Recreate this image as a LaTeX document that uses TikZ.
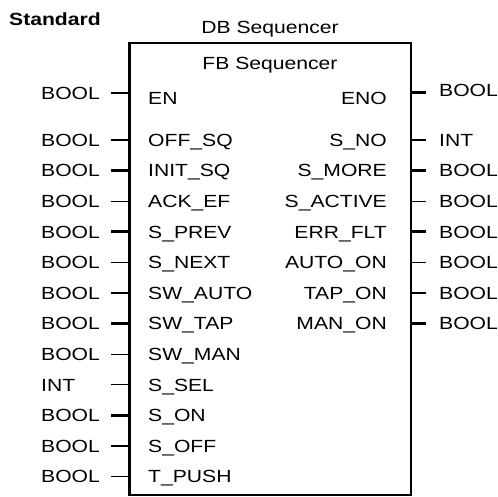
\documentclass[tikz,border=0pt]{standalone}
\usepackage{fontspec}
\setmainfont{Liberation Sans}[FakeStretch=1.2]
\begin{document}
\begin{tikzpicture}[x=1pt,y=-1pt,
  lbl/.style={inner sep=0pt,text height=12.6pt,text depth=0pt,font=\fontsize{17.6}{20}\selectfont},
  thinstub/.style={line width=1.3pt},
  thickstub/.style={line width=3pt},
  boxline/.style={line width=1.4pt}]
\useasboundingbox (0,0) rectangle (498,496);
% titles
\node[lbl,anchor=west,font=\fontsize{17.6}{20}\selectfont\bfseries] (std) at (9,19) {Standard};
\node[lbl] (db) at (270,27) {DB Sequencer};
% box
\coordinate (tl) at (129,43);
\coordinate (br) at (411,495);
\node[lbl] (fb) at (270,63) {FB Sequencer};
\draw[boxline] (tl) rectangle (br);
\draw[line width=3.5pt] (129.5,43) -- (129.5,496);
% EN / ENO
\node[lbl,anchor=west] (lEN) at (41,93) {BOOL};
\node[lbl,anchor=west] (iEN) at (148,98) {EN};
\coordinate (lpEN) at (111,93); \coordinate (leEN) at (128,93);
\draw[thinstub] (lpEN) -- (leEN);
\node[lbl,anchor=east] (iENO) at (387,98) {ENO};
\node[lbl,anchor=west] (rENO) at (439,90) {BOOL};
\coordinate (rpENO) at (411,92); \coordinate (reENO) at (426,92);
\draw[thickstub] (rpENO) -- (reENO);
% left inputs
\foreach \n/\t/\l/\y/\w in {
  a/OFF\_SQ/BOOL/140/thinstub,
  b/INIT\_SQ/BOOL/170.6/thickstub,
  c/ACK\_EF/BOOL/201.2/thinstub,
  d/S\_PREV/BOOL/231.8/thickstub,
  e/S\_NEXT/BOOL/262.4/thinstub,
  f/SW\_AUTO/BOOL/293/thinstub,
  g/SW\_TAP/BOOL/323.6/thickstub,
  h/SW\_MAN/BOOL/354.2/thinstub,
  i/S\_SEL/INT/384.8/thinstub,
  j/S\_ON/BOOL/415.4/thickstub,
  k/S\_OFF/BOOL/446/thinstub,
  m/T\_PUSH/BOOL/476.6/thinstub}{
  \node[lbl,anchor=west] (l\n) at (41,\y) {\l};
  \node[lbl,anchor=west] (i\n) at (148,\y) {\t};
  \coordinate (lp\n) at (111,\y);
  \coordinate (le\n) at (128,\y);
  \draw[\w] (lp\n) -- (le\n);
}
% right outputs
\foreach \n/\t/\l/\y/\w in {
  a/S\_NO/INT/140/thinstub,
  b/S\_MORE/BOOL/170.6/thickstub,
  c/S\_ACTIVE/BOOL/201.2/thinstub,
  d/ERR\_FLT/BOOL/231.8/thickstub,
  e/AUTO\_ON/BOOL/262.4/thinstub,
  f/TAP\_ON/BOOL/293/thinstub,
  g/MAN\_ON/BOOL/323.6/thickstub}{
  \node[lbl,anchor=east] (o\n) at (387,\y) {\t};
  \node[lbl,anchor=west] (r\n) at (439,\y) {\l};
  \coordinate (rp\n) at (411,\y);
  \coordinate (re\n) at (426,\y);
  \draw[\w] (rp\n) -- (re\n);
}
\end{tikzpicture}
\end{document}
